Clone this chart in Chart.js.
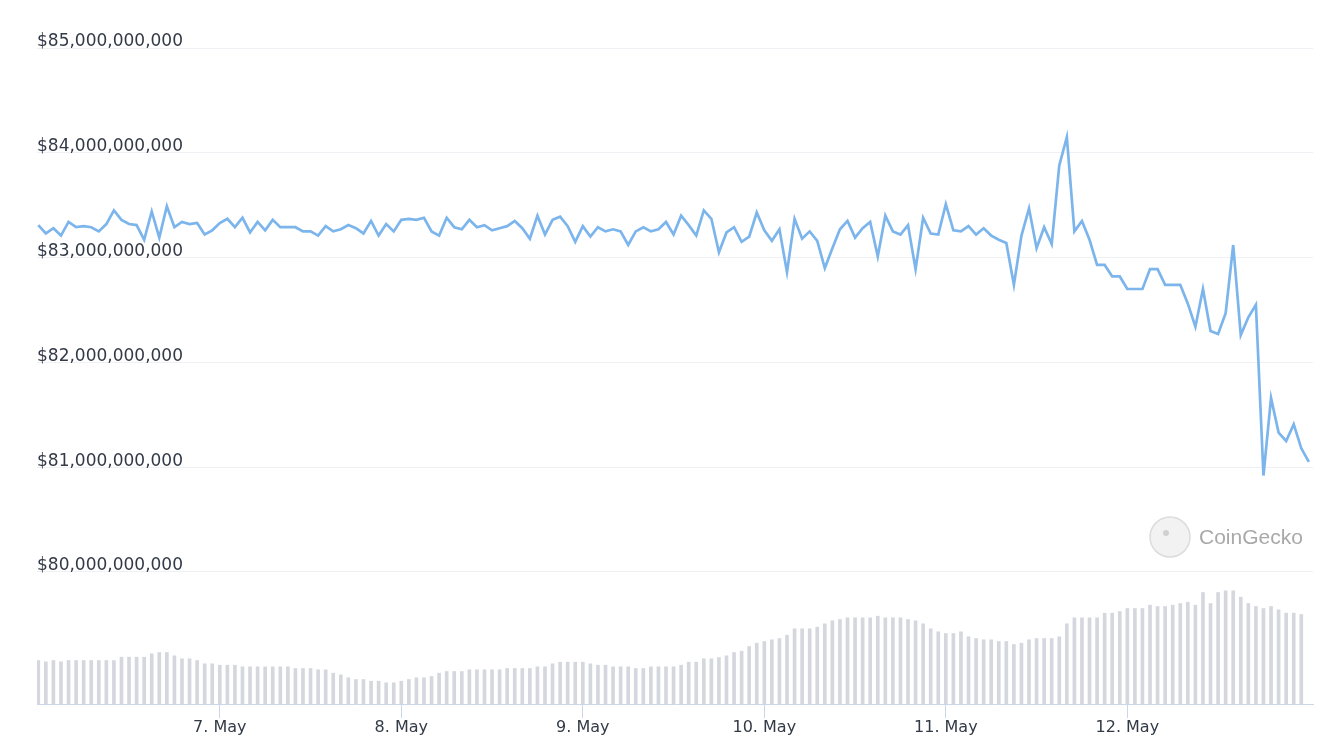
<!DOCTYPE html>
<html>
<head>
<meta charset="utf-8">
<script src="https://cdn.jsdelivr.net/npm/chart.js@4/dist/chart.umd.min.js"></script>
<style>
  html, body { margin: 0; padding: 0; background: #ffffff; }
  #wrap { width: 1342px; height: 756px; position: relative; }
</style>
</head>
<body>
<div id="wrap"><canvas id="c" width="1342" height="756"></canvas></div>
<script>
// Market cap in billions USD, hourly from 6 May 00:00 to 13 May 00:00
const marketCap = [
  83.31, 83.23, 83.28, 83.21, 83.34, 83.29, 83.30, 83.29, 83.25, 83.32,
  83.45, 83.36, 83.32, 83.31, 83.17, 83.44, 83.19, 83.49, 83.29, 83.34,
  83.32, 83.33, 83.22, 83.26, 83.33, 83.37, 83.29, 83.38, 83.24, 83.34,
  83.26, 83.36, 83.29, 83.29, 83.29, 83.25, 83.25, 83.21, 83.30, 83.25,
  83.27, 83.31, 83.28, 83.23, 83.35, 83.21, 83.32, 83.25, 83.36, 83.37,
  83.36, 83.38, 83.25, 83.21, 83.38, 83.29, 83.27, 83.36, 83.29, 83.31,
  83.26, 83.28, 83.30, 83.35, 83.28, 83.18, 83.40, 83.22, 83.36, 83.39,
  83.30, 83.15, 83.30, 83.20, 83.29, 83.25, 83.27, 83.25, 83.12, 83.25,
  83.29, 83.25, 83.27, 83.34, 83.22, 83.40, 83.31, 83.21, 83.45, 83.37,
  83.05, 83.24, 83.29, 83.15, 83.20, 83.43, 83.26, 83.16, 83.27, 82.86,
  83.37, 83.18, 83.25, 83.16, 82.90, 83.09, 83.27, 83.35, 83.19, 83.28,
  83.34, 83.01, 83.40, 83.25, 83.22, 83.31, 82.89, 83.38, 83.23, 83.22,
  83.51, 83.26, 83.25, 83.30, 83.22, 83.28, 83.21, 83.17, 83.14, 82.74,
  83.21, 83.47, 83.09, 83.29, 83.13, 83.88, 84.15, 83.25, 83.35, 83.17,
  82.93, 82.93, 82.82, 82.82, 82.70, 82.70, 82.70, 82.89, 82.89, 82.74,
  82.74, 82.74, 82.56, 82.34, 82.70, 82.30, 82.27, 82.47, 83.12, 82.26,
  82.43, 82.55, 80.92, 81.66, 81.33, 81.25, 81.41, 81.18, 81.05
];

// Trading volume in billions USD, hourly bars
const volume = [
  43.5, 42.2, 43.5, 42.2, 43.5, 43.5, 43.5, 43.5, 43.5, 43.5,
  43.5, 46.8, 46.8, 46.8, 46.8, 50.2, 51.5, 51.5, 48.2, 45.2,
  45.2, 43.5, 40.2, 40.2, 38.8, 38.8, 38.8, 37.2, 37.2, 37.2,
  37.2, 37.2, 37.2, 37.2, 35.5, 35.5, 35.5, 34.2, 34.2, 30.8,
  29.2, 26.2, 24.5, 24.5, 22.8, 22.8, 21.2, 21.2, 22.8, 24.5,
  26.2, 26.2, 27.5, 30.8, 32.5, 32.5, 32.5, 34.2, 34.2, 34.2,
  34.2, 34.2, 35.5, 35.5, 35.5, 35.5, 37.2, 37.2, 40.2, 41.8,
  41.8, 41.8, 41.8, 40.2, 38.8, 38.8, 37.2, 37.2, 37.2, 35.5,
  35.5, 37.2, 37.2, 37.2, 37.2, 38.8, 41.8, 41.8, 45.2, 45.2,
  46.5, 48.2, 51.5, 52.8, 57.5, 60.8, 62.5, 64.2, 65.5, 68.8,
  75.2, 75.2, 75.2, 76.8, 80.2, 83.2, 84.5, 86.2, 86.2, 86.2,
  86.2, 87.8, 86.2, 86.2, 86.2, 84.5, 83.2, 80.2, 75.2, 72.2,
  70.5, 70.5, 72.2, 67.2, 65.5, 64.2, 64.2, 62.5, 62.5, 59.5,
  60.8, 64.2, 65.5, 65.5, 65.5, 67.2, 80.2, 86.2, 86.2, 86.2,
  86.2, 90.8, 90.8, 92.5, 95.5, 95.5, 95.5, 98.8, 97.5, 97.5,
  98.8, 100.5, 101.8, 98.8, 111.5, 100.5, 111.5, 113.2, 113.2, 106.8,
  100.5, 97.5, 95.5, 97.5, 94.2, 90.8, 90.8, 89.5
];

// Tick labels
const dayLabels = ['7. May', '8. May', '9. May', '10. May', '11. May', '12. May'];
const dayTickHours = [24, 48, 72, 96, 120, 144];
const priceTicks = [80, 81, 82, 83, 84, 85];

const linePoints = marketCap.map((v, i) => ({ x: i, y: v }));
const barPoints = volume.map((v, i) => ({ x: i, y: v }));

const TEXT = '#333a47';

const watermark = {
  id: 'watermark',
  beforeDatasetsDraw(chart) {
    const ctx = chart.ctx;
    const a = chart.chartArea;
    const cx = a.right - 143, cy = 537;
    ctx.save();
    ctx.beginPath();
    ctx.arc(cx, cy, 20, 0, Math.PI * 2);
    ctx.fillStyle = '#f2f2f2';
    ctx.fill();
    ctx.lineWidth = 1.5;
    ctx.strokeStyle = '#dcdcdc';
    ctx.stroke();
    ctx.beginPath();
    ctx.arc(cx - 4, cy - 4, 3, 0, Math.PI * 2);
    ctx.fillStyle = '#d0d0d0';
    ctx.fill();
    ctx.font = '21px "Liberation Sans", Arial, sans-serif';
    ctx.fillStyle = '#a9a9a9';
    ctx.textBaseline = 'middle';
    ctx.textAlign = 'left';
    ctx.fillText('CoinGecko', cx + 29, cy + 1);
    ctx.restore();
  }
};

new Chart(document.getElementById('c'), {
  type: 'line',
  data: {
    datasets: [
      {
        type: 'line',
        label: 'Market Cap',
        data: linePoints,
        xAxisID: 'x',
        yAxisID: 'y',
        borderColor: '#7cb5ec',
        borderWidth: 2.7,
        pointRadius: 0,
        tension: 0,
        fill: false,
        order: 0
      },
      {
        type: 'bar',
        label: 'Volume',
        data: barPoints,
        xAxisID: 'x',
        yAxisID: 'y1',
        backgroundColor: '#d4d7de',
        barThickness: 3,
        order: 1
      }
    ]
  },
  options: {
    responsive: false,
    animation: false,
    layout: { padding: { left: 37, right: 29, top: 48, bottom: 0 } },
    plugins: { legend: { display: false }, tooltip: { enabled: false } },
    scales: {
      x: {
        type: 'linear',
        min: -0.17,
        max: 168.55,
        offset: false,
        afterBuildTicks: (s) => { s.ticks = dayTickHours.map(v => ({ value: v })); },
        afterFit: (s) => { s.height = 52; },
        ticks: {
          autoSkip: false,
          maxRotation: 0,
          padding: 0,
          color: TEXT,
          font: { family: '"DejaVu Sans", sans-serif', size: 16 },
          callback: (v) => dayLabels[dayTickHours.indexOf(v)]
        },
        grid: { offset: false, drawOnChartArea: false, drawTicks: true, tickLength: 14, color: '#ccd6eb', lineWidth: 1 },
        border: { display: true, color: '#ccd6eb', width: 1 }
      },
      y: {
        type: 'linear',
        position: 'left',
        min: 78.74,
        max: 85,
        afterBuildTicks: (s) => { s.ticks = priceTicks.map(v => ({ value: v })); },
        afterFit: (s) => { s.width = 0; },
        ticks: {
          mirror: true,
          padding: 0,
          labelOffset: -6,
          color: TEXT,
          font: { family: '"DejaVu Sans", sans-serif', size: 17 },
          callback: (v) => '$' + (v * 1e9).toLocaleString('en-US')
        },
        grid: { drawTicks: false, color: '#eef0f3', lineWidth: 1 },
        border: { display: false }
      },
      y1: {
        type: 'linear',
        display: false,
        min: 0,
        max: 656
      }
    }
  },
  plugins: [watermark]
});
</script>
</body>
</html>
